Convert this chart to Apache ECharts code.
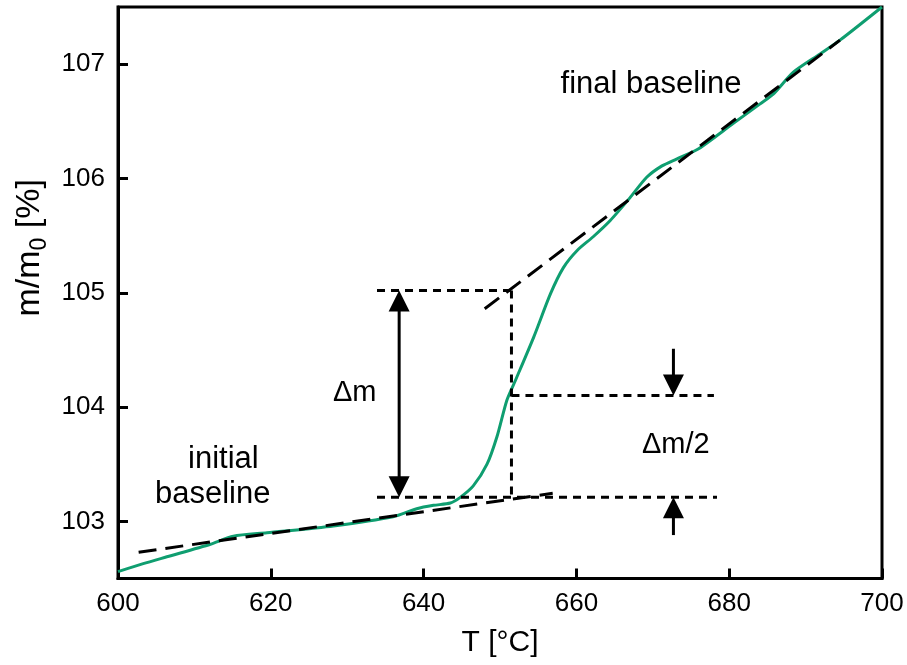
<!DOCTYPE html>
<html><head><meta charset="utf-8">
<script src="https://cdn.jsdelivr.net/npm/echarts@6/dist/echarts.min.js"></script>
<style>html,body{margin:0;padding:0;background:#fff}#c{width:907px;height:665px}</style>
</head><body><div id="c"></div>
<script>
// ---- data ----
const temperature = [600.0,603.3,606.4,612.1,615.1,619.5,628.2,636.0,639.1,641.3,643.5,644.8,646.5,648.3,649.6,650.9,652.0,654.4,656.6,658.3,660.1,662.2,664.4,667.0,669.2,671.2,673.1,676.0,680.5,684.0,685.8,688.4,691.9,694.5,700.0];
const massRatio   = [102.56,102.63,102.69,102.80,102.87,102.90,102.96,103.04,103.11,103.14,103.16,103.21,103.31,103.50,103.74,104.06,104.23,104.61,104.99,105.22,105.37,105.49,105.63,105.83,106.01,106.11,106.17,106.26,106.48,106.65,106.74,106.93,107.09,107.21,107.50];

const initialBaselineT = [602.7, 656.9];
const initialBaselineM = [102.73, 103.245];
const finalBaselineT = [648.0, 694.5];
const finalBaselineM = [104.86, 107.21];

const guideTopT = [633.9, 651.5],    guideTopM = [105.02, 105.02];
const guideVertT = [651.5, 651.5],   guideVertM = [105.02, 103.21];
const guideMidT = [651.5, 678.0],    guideMidM = [104.10, 104.10];
const guideBotT = [633.9, 678.4],    guideBotM = [103.21, 103.21];

const arrowX = [636.8, 672.7, 672.7];
const arrowFrom = [103.21, 104.51, 102.88];
const arrowTo = [105.02, 104.10, 103.21];
const arrowBothEnds = [1, 0, 0];

const xTicks = [600, 620, 640, 660, 680, 700];
const yTicks = [103, 104, 105, 106, 107];

// ---- chart ----
const FONT = '"Liberation Sans", Arial, sans-serif';
const pairs = (xs, ys) => xs.map((x, i) => [x, ys[i]]);
const chart = echarts.init(document.getElementById('c'), null, {renderer: 'canvas'});

const longDash = {color: '#000', width: 3, type: [18, 9]};
const shortDash = {color: '#000', width: 3, type: [8, 6]};
const lineSeries = (data, style) => ({
  type: 'line', data, showSymbol: false, symbol: 'none', silent: true,
  lineStyle: style, animation: false
});

chart.setOption({
  animation: false,
  backgroundColor: '#fff',
  grid: {left: 118, right: 25, top: 7, bottom: 86.5, show: true, borderColor: '#000', borderWidth: 3, containLabel: false, outerBoundsMode: 'none'},
  xAxis: {
    type: 'value', min: 600, max: 700, interval: 20,
    name: 'T [°C]', nameLocation: 'middle', nameGap: 49,
    nameTextStyle: {fontSize: 30, fontFamily: FONT, color: '#000'},
    axisLine: {show: true, lineStyle: {color: '#000', width: 3}},
    axisTick: {show: true, inside: true, length: 10, lineStyle: {color: '#000', width: 3}, customValues: xTicks},
    axisLabel: {fontSize: 26, fontFamily: FONT, color: '#000', margin: 12, customValues: xTicks},
    splitLine: {show: false}
  },
  yAxis: {
    type: 'value', min: 102.5, max: 107.5,
    name: 'm/m{s|0} [%]', nameLocation: 'middle', nameGap: 66, nameRotate: 90,
    nameTextStyle: {fontSize: 34, fontFamily: FONT, color: '#000', padding: [0, 0, 0, 90],
      rich: {s: {fontSize: 23, fontFamily: FONT, color: '#000', padding: [19, 0, 0, 0]}}},
    axisLine: {show: true, lineStyle: {color: '#000', width: 3}},
    axisTick: {show: true, inside: true, length: 10, lineStyle: {color: '#000', width: 3}, customValues: yTicks},
    axisLabel: {fontSize: 26, fontFamily: FONT, color: '#000', margin: 13, customValues: yTicks},
    splitLine: {show: false}
  },
  series: [
    {type: 'line', data: pairs(temperature, massRatio), showSymbol: false, symbol: 'none', smooth: 0.25,
     lineStyle: {color: '#0f9e70', width: 3}, silent: true},
    lineSeries(pairs(initialBaselineT, initialBaselineM), longDash),
    lineSeries(pairs(finalBaselineT, finalBaselineM), longDash),
    lineSeries(pairs(guideTopT, guideTopM), shortDash),
    lineSeries(pairs(guideVertT, guideVertM), shortDash),
    lineSeries(pairs(guideMidT, guideMidM), shortDash),
    lineSeries(pairs(guideBotT, guideBotM), shortDash),
    {
      type: 'custom', silent: true,
      data: arrowX.map((x, i) => [x, arrowFrom[i], arrowTo[i], arrowBothEnds[i]]),
      encode: {x: 0, y: [1, 2]},
      renderItem(params, api) {
        const p0 = api.coord([api.value(0), api.value(1)]);
        const p1 = api.coord([api.value(0), api.value(2)]);
        const both = api.value(3) === 1;
        const L = 21, W = 10.5;
        const dir = Math.sign(p1[1] - p0[1]);
        const head = (tip, d) => ({type: 'polygon',
          shape: {points: [[tip[0], tip[1]], [tip[0] - W, tip[1] - d * L], [tip[0] + W, tip[1] - d * L]]},
          style: {fill: '#000'}});
        const y1 = both ? p0[1] + dir * L * 0.9 : p0[1];
        const y2 = p1[1] - dir * L * 0.9;
        const children = [
          {type: 'line', shape: {x1: p0[0], y1: y1, x2: p1[0], y2: y2}, style: {stroke: '#000', lineWidth: 3}},
          head(p1, dir)
        ];
        if (both) children.push(head(p0, -dir));
        return {type: 'group', children};
      }
    }
  ],
  graphic: [
    {type: 'text', x: 651, y: 84, style: {text: 'final baseline', fontSize: 31, fontFamily: FONT, fill: '#000', align: 'center', verticalAlign: 'middle'}},
    {type: 'text', x: 188, y: 459, style: {text: 'initial', fontSize: 31, fontFamily: FONT, fill: '#000', align: 'left', verticalAlign: 'middle'}},
    {type: 'text', x: 155, y: 494, style: {text: 'baseline', fontSize: 31, fontFamily: FONT, fill: '#000', align: 'left', verticalAlign: 'middle'}},
    {type: 'text', x: 333, y: 393, style: {text: 'Δm', fontSize: 29, fontFamily: FONT, fill: '#000', align: 'left', verticalAlign: 'middle'}},
    {type: 'text', x: 642, y: 445, style: {text: 'Δm/2', fontSize: 29, fontFamily: FONT, fill: '#000', align: 'left', verticalAlign: 'middle'}}
  ]
});
</script>
</body></html>
